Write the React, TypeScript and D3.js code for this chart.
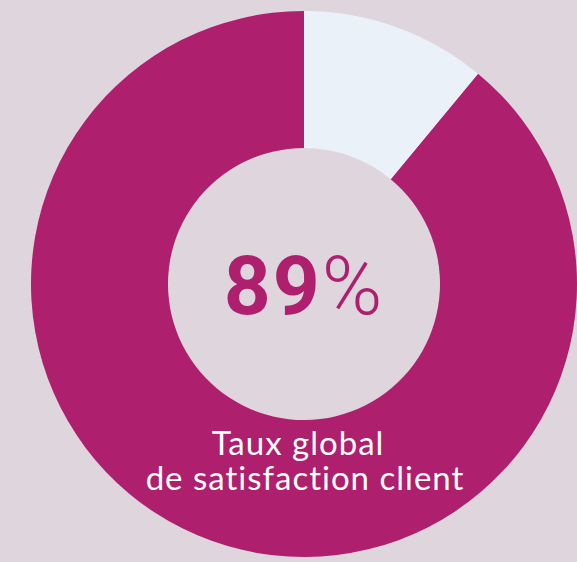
import React, { useRef, useEffect } from "react";
import * as d3 from "d3";

const labels = ["Satisfaits", "Autres"];
const values = [89, 11];
const colors = ["#ae1f6e", "#eaf1f9"];
const centerValue = "89";
const centerUnit = "%";
const captionLines = ["Taux global", "de satisfaction client"];

const App = () => {
  const svgRef = useRef<SVGSVGElement>(null);

  useEffect(() => {
    const svg = d3.select(svgRef.current);
    svg.selectAll("*").remove();

    const width = 577;
    const height = 562;
    const cx = 304;
    const cy = 284;
    const outerR = 273;
    const innerR = 136;

    svg.attr("width", width).attr("height", height);
    svg.append("rect").attr("width", width).attr("height", height).attr("fill", "#dfd5dd");

    const g = svg.append("g").attr("transform", `translate(${cx},${cy})`);

    // satisfied share drawn counter-clockwise from 12 o'clock, the rest clockwise
    const pie = d3
      .pie<number>()
      .sort(null)
      .startAngle(0)
      .endAngle(-2 * Math.PI);
    const arcs = pie(values);
    const arc = d3.arc<d3.PieArcDatum<number>>().innerRadius(innerR).outerRadius(outerR);

    g.selectAll("path")
      .data(arcs)
      .join("path")
      .attr("d", arc)
      .attr("fill", (_d, i) => colors[i])
      .append("title")
      .text((_d, i) => labels[i]);

    const num = g
      .append("text")
      .attr("x", 0)
      .attr("y", 30)
      .attr("text-anchor", "middle")
      .attr("fill", colors[0])
      .style("font-family", "Roboto, sans-serif")
      .style("font-size", "82px")
      .style("letter-spacing", "2px");
    num.append("tspan").style("font-weight", 700).text(centerValue);
    num.append("tspan").style("font-weight", 300).text(centerUnit);

    g.append("text")
      .attr("text-anchor", "middle")
      .attr("fill", "#ffffff")
      .style("font-family", "Lato, sans-serif")
      .style("font-size", "33px")
      .style("letter-spacing", "1px")
      .selectAll("tspan")
      .data(captionLines)
      .join("tspan")
      .attr("x", (_d, i) => (i === 0 ? -6 : 1))
      .attr("y", (_d, i) => 171 + i * 35)
      .text((d) => d);
  }, []);

  return <svg ref={svgRef} style={{ position: "absolute", left: 0, top: 0 }}></svg>;
};

export default App;
